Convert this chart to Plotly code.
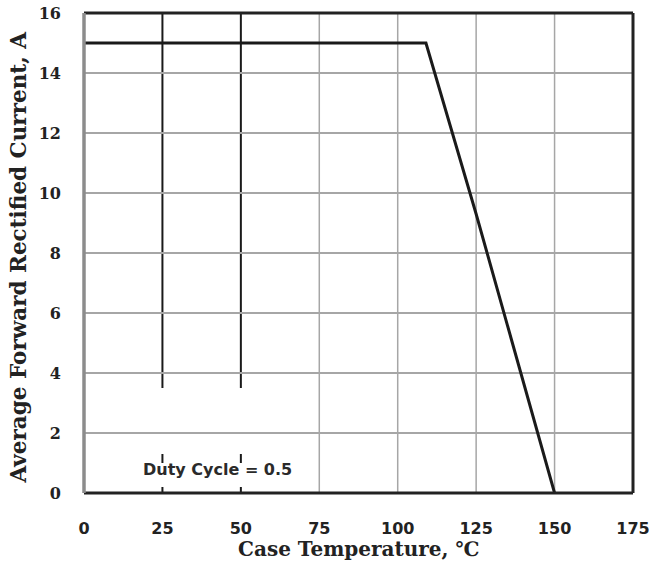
import plotly.graph_objects as go

# Derating curve
case_temp = [0, 109, 125, 150]
current = [15, 15, 9.3, 0]

x_ticks = [0, 25, 50, 75, 100, 125, 150, 175]
y_ticks = [0, 2, 4, 6, 8, 10, 12, 14, 16]
gray_vlines = [75, 100, 125, 150]
black_vlines = [25, 50]
# segments of the dark vertical lines (y ranges)
black_vline_segments = [(3.5, 16), (1.0, 1.3), (0, 0.2)]

GRAY = "#a6a6a6"
DARK = "#1a1a1a"

fig = go.Figure()
fig.add_trace(go.Scatter(x=case_temp, y=current, mode="lines",
                         line=dict(color=DARK, width=3), showlegend=False,
                         hoverinfo="skip"))

shapes = []
for xv in gray_vlines:
    shapes.append(dict(type="line", xref="x", yref="y", x0=xv, x1=xv, y0=0, y1=16,
                       line=dict(color=GRAY, width=1.5), layer="below"))
for xv in black_vlines:
    for (a, b) in black_vline_segments:
        shapes.append(dict(type="line", xref="x", yref="y", x0=xv, x1=xv, y0=a, y1=b,
                           line=dict(color=DARK, width=2), layer="below"))
# dark horizontal gridline at 12
shapes.append(dict(type="line", xref="x", yref="y", x0=0, x1=175, y0=12, y1=12,
                   line=dict(color=DARK, width=1.8), layer="below"))
# frame
shapes += [
    dict(type="line", xref="x domain", yref="y domain", x0=0, x1=1, y0=1, y1=1,
         line=dict(color="#222222", width=3)),
    dict(type="line", xref="x domain", yref="y domain", x0=1, x1=1, y0=0, y1=1,
         line=dict(color="#222222", width=3)),
    dict(type="line", xref="x domain", yref="y domain", x0=0, x1=1, y0=0, y1=0,
         line=dict(color="#222222", width=3)),
    dict(type="line", xref="x domain", yref="y domain", x0=0, x1=0, y0=0, y1=1,
         line=dict(color="#8c8c8c", width=3.5)),
]

fig.update_layout(
    width=654, height=569,
    margin=dict(l=84, r=21, t=13, b=76),
    paper_bgcolor="white", plot_bgcolor="white",
    shapes=shapes,
    xaxis=dict(range=[0, 175], tickvals=x_ticks, showgrid=False, zeroline=False,
               showline=False, ticks="", ticklabelstandoff=24, automargin=False,
               ticklabeloverflow="allow",
               tickfont=dict(family="DejaVu Sans", size=16, color="#222222", weight="bold")),
    yaxis=dict(range=[0, 16], tickvals=y_ticks, showgrid=True, gridcolor=GRAY,
               gridwidth=1.5, zeroline=False, showline=False, ticks="",
               ticklabelstandoff=22, automargin=False,
               ticklabeloverflow="allow",
               tickfont=dict(family="DejaVu Serif", size=16, color="#222222", weight="bold")),
    annotations=[
        dict(x=42.4, y=0.8, xref="x", yref="y", text="Duty Cycle = 0.5",
             showarrow=False,
             font=dict(family="DejaVu Sans", size=16, color="#2a2a2a", weight="bold")),
        dict(x=0.5, y=-0.117, xref="paper", yref="paper", text="Case Temperature, ℃",
             showarrow=False, xanchor="center", yanchor="middle",
             font=dict(family="DejaVu Serif", size=20, color="#222222", weight="bold")),
        dict(x=-0.119, y=0.49, xref="paper", yref="paper",
             text="Average Forward Rectified Current, A", textangle=-90,
             showarrow=False, xanchor="center", yanchor="middle",
             font=dict(family="DejaVu Serif", size=21.5, color="#222222", weight="bold")),
    ],
)

# remove the browser's default 8px page margin so the figure fills the window
fig.write_html("out.html",
               config={"displayModeBar": False},
               post_script="document.body.style.margin='0';document.body.style.overflow='hidden';")
